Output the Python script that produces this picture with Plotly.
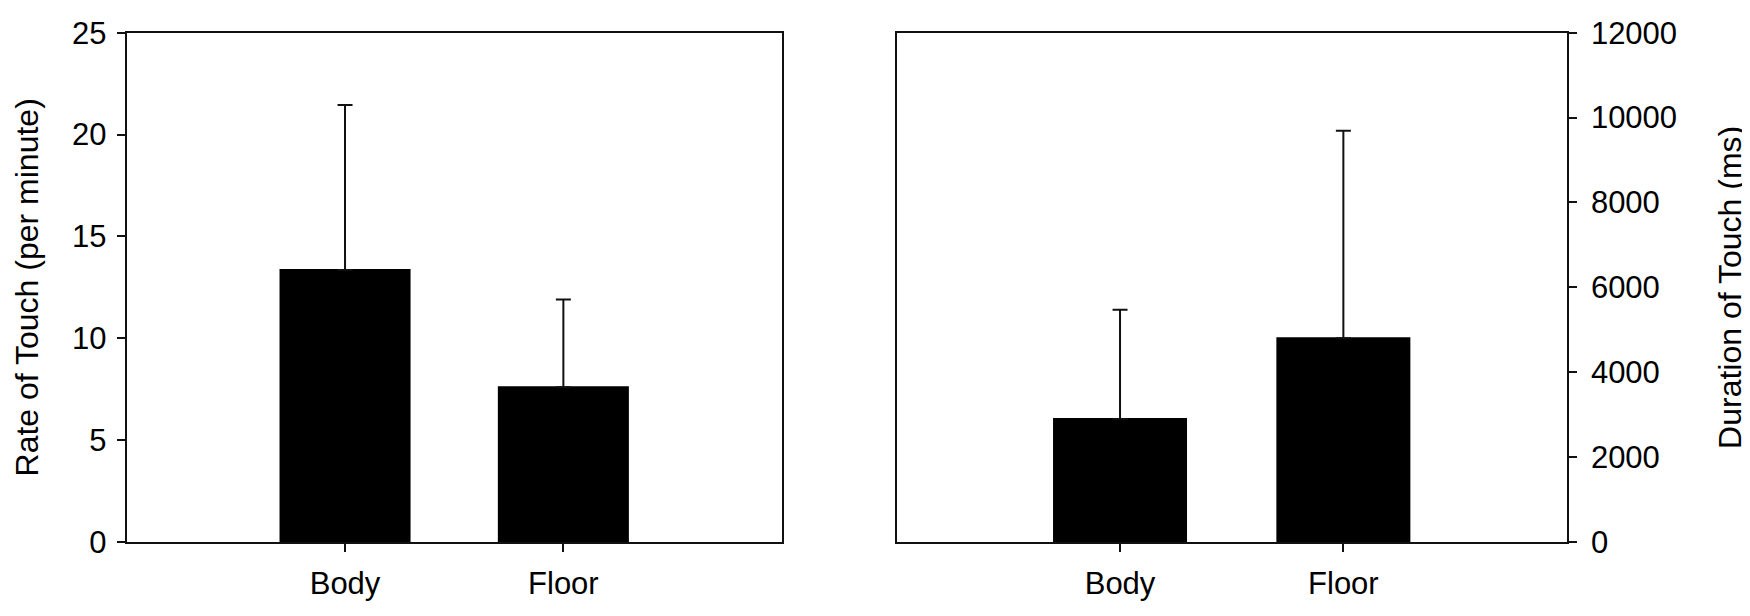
import plotly.graph_objects as go

categories = ["Body", "Floor"]
rate_mean = [13.35, 7.6]
rate_err = [8.1, 4.3]
dur_mean = [2900, 4800]
dur_err = [2575, 4890]
rate_ticks = [0, 5, 10, 15, 20, 25]
dur_ticks = [0, 2000, 4000, 6000, 8000, 10000, 12000]
dur_ticktext = ["0", "2000", "4000", "6000", "8000", "10000", "12000"]

FONT = "Liberation Sans, Arial, sans-serif"
LINE = "#111111"
BAR_W = 0.591

fig = go.Figure()
fig.add_trace(go.Bar(
    x=categories, y=rate_mean, width=BAR_W,
    marker=dict(color="black", line=dict(width=2, color="black")),
    error_y=dict(type="data", symmetric=False, array=rate_err, arrayminus=[0, 0],
                 color=LINE, thickness=2, width=7.5),
    xaxis="x", yaxis="y", showlegend=False))
fig.add_trace(go.Bar(
    x=categories, y=dur_mean, width=BAR_W,
    marker=dict(color="black", line=dict(width=2, color="black")),
    error_y=dict(type="data", symmetric=False, array=dur_err, arrayminus=[0, 0],
                 color=LINE, thickness=2, width=7.5),
    xaxis="x2", yaxis="y2", showlegend=False))

# page body adds an 8px offset; compensate so the plot lands where the reference has it
OFF = 8
W, H = 1750, 616
L1, R1 = (126.7 - OFF) / W, (781.7 - OFF) / W
L2, R2 = (896.7 - OFF) / W, (1566.7 - OFF) / W
YB, YT = 1 - (542 - OFF) / H, 1 - (32.7 - OFF) / H

axis_common = dict(showline=True, linecolor=LINE, linewidth=2, mirror=True,
                   showgrid=False, zeroline=False, automargin=False,
                   tickfont=dict(family=FONT, size=31, color="black"),
                   ticks="outside", ticklen=8, tickwidth=2, tickcolor=LINE)

fig.update_layout(
    template="none",
    width=W, height=H, margin=dict(l=0, r=0, t=0, b=0, pad=0),
    plot_bgcolor="white", paper_bgcolor="white",
    font=dict(family=FONT, color="black"),
    xaxis=dict(domain=[L1, R1], anchor="y", range=[-1, 2], ticklabelstandoff=5,
               **axis_common),
    yaxis=dict(domain=[YB, YT], anchor="x", range=[0, 25], tickvals=rate_ticks,
               ticklabelstandoff=4,
               title=dict(text="Rate of Touch (per minute)", font=dict(family=FONT, size=32),
                          standoff=24),
               **axis_common),
    xaxis2=dict(domain=[L2, R2], anchor="y2", range=[-1, 2], ticklabelstandoff=5,
                **axis_common),
    yaxis2=dict(domain=[YB, YT], anchor="x2", side="right", range=[0, 12000],
                tickvals=dur_ticks, ticktext=dur_ticktext, ticklabelstandoff=8,
                title=dict(text="Duration of Touch (ms)", font=dict(family=FONT, size=32),
                           standoff=42),
                **axis_common),
)

fig.write_html("out.html")
